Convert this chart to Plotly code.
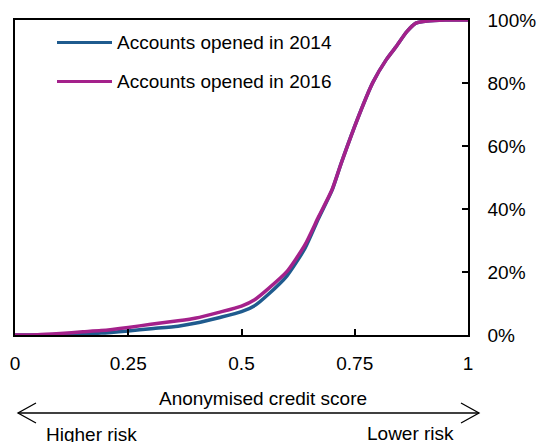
import plotly.graph_objects as go

# anonymised credit score (x) and cumulative share of accounts (y)
score = [0.00, 0.05, 0.10, 0.15, 0.19, 0.25, 0.30, 0.36, 0.40, 0.45, 0.50, 0.53,
         0.56, 0.60, 0.64, 0.67, 0.70, 0.72, 0.76, 0.79, 0.82, 0.84, 0.865,
         0.885, 0.91, 0.95, 1.00]
opened_2014 = [0.000, 0.000, 0.002, 0.004, 0.006, 0.013, 0.020, 0.028, 0.038, 0.055,
               0.074, 0.094, 0.130, 0.187, 0.275, 0.370, 0.460, 0.545, 0.700, 0.802,
               0.875, 0.913, 0.963, 0.990, 0.997, 1.000, 1.000]
opened_2016 = [0.000, 0.001, 0.005, 0.010, 0.014, 0.024, 0.034, 0.045, 0.054, 0.072,
               0.092, 0.113, 0.148, 0.201, 0.286, 0.375, 0.462, 0.545, 0.700, 0.802,
               0.875, 0.913, 0.963, 0.990, 0.997, 1.000, 1.000]

series_names = ["Accounts opened in 2014", "Accounts opened in 2016"]
series_colors = ["#1F5B8E", "#A4218B"]

x_ticks = [0, 0.25, 0.5, 0.75, 1]
x_tick_labels = ["0", "0.25", "0.5", "0.75", "1"]
y_ticks = [0, 0.2, 0.4, 0.6, 0.8, 1.0]

W, H = 538, 442
L, R, T, B = 15, 70, 20, 107
FONT = dict(family="Liberation Sans, Arial, sans-serif", size=19, color="#000000")


def px_x(px):
    # pixel column -> paper x
    return (px - L) / (W - L - R)


def px_y(py):
    # pixel row -> paper y
    return (H - B - py) / (H - T - B)


fig = go.Figure()
for ys, name, col in zip([opened_2014, opened_2016], series_names, series_colors):
    fig.add_trace(go.Scatter(x=score, y=ys, mode="lines", name=name,
                             line=dict(color=col, width=3.5, shape="spline", smoothing=0.6),
                             showlegend=False, cliponaxis=False))

shapes = []
annotations = []

# hand drawn legend
for i, (name, col) in enumerate(zip(series_names, series_colors)):
    yy = px_y(42.5 + i * 39)
    shapes.append(dict(type="line", xref="paper", yref="paper",
                       x0=px_x(57), x1=px_x(112), y0=yy, y1=yy,
                       line=dict(color=col, width=3)))
    annotations.append(dict(text=name, xref="paper", yref="paper", x=px_x(115), y=yy,
                            xanchor="left", yanchor="middle", showarrow=False, font=FONT))

# double headed arrow under the axis
ay = px_y(413)
shapes.append(dict(type="line", xref="paper", yref="paper",
                   x0=px_x(18), x1=px_x(479), y0=ay, y1=ay,
                   line=dict(color="black", width=1.3)))
shapes.append(dict(type="path", xref="paper", yref="paper",
                   path="M {} {} L {} {} L {} {}".format(px_x(36), px_y(403), px_x(18), ay, px_x(36), px_y(423)),
                   line=dict(color="black", width=1.3)))
shapes.append(dict(type="path", xref="paper", yref="paper",
                   path="M {} {} L {} {} L {} {}".format(px_x(461), px_y(403), px_x(479), ay, px_x(461), px_y(423)),
                   line=dict(color="black", width=1.3)))

annotations.append(dict(text="Anonymised credit score", xref="paper", yref="paper",
                        x=px_x(263), y=px_y(398), xanchor="center", yanchor="middle",
                        showarrow=False, font=FONT))
annotations.append(dict(text="Higher risk", xref="paper", yref="paper",
                        x=px_x(44), y=px_y(434), xanchor="left", yanchor="middle",
                        showarrow=False, font=FONT))
annotations.append(dict(text="Lower risk", xref="paper", yref="paper",
                        x=px_x(456), y=px_y(433), xanchor="right", yanchor="middle",
                        showarrow=False, font=FONT))

fig.update_layout(
    width=W, height=H,
    margin=dict(l=L, r=R, t=T, b=B),
    paper_bgcolor="white", plot_bgcolor="white",
    font=FONT,
    shapes=shapes,
    annotations=annotations,
    xaxis=dict(range=[0, 1], tickvals=x_ticks, ticktext=x_tick_labels,
               showgrid=False, zeroline=False, showline=True, mirror=True,
               linecolor="black", linewidth=1.5, ticks="inside", ticklen=6,
               tickwidth=1.5, tickcolor="black", ticklabelstandoff=10,
               automargin=False),
    yaxis=dict(range=[0, 1], tickvals=y_ticks, tickformat=".0%", side="right",
               showgrid=False, zeroline=False, showline=True, mirror=True,
               linecolor="black", linewidth=1.5, ticks="inside", ticklen=6,
               tickwidth=1.5, tickcolor="black", ticklabelstandoff=14,
               automargin=False),
)

# drop the browser's default body margin so the figure sits at the page corner
fig.write_html("out.html", config={"displayModeBar": False},
               post_script="document.body.style.margin='0';")
